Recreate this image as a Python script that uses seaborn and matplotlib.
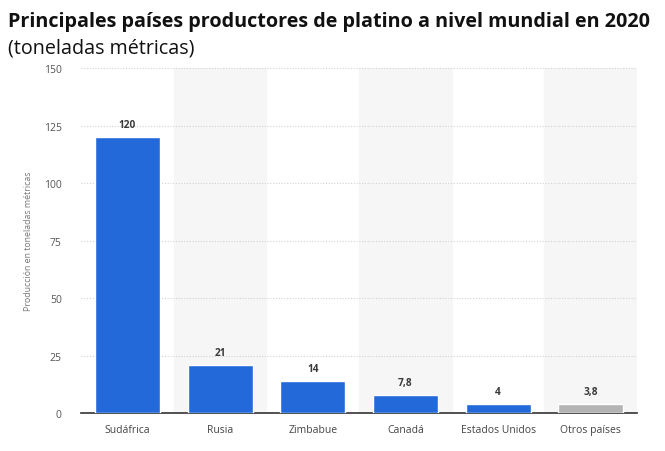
import pandas as pd
import matplotlib
matplotlib.use("Agg")
import matplotlib.pyplot as plt
import seaborn as sns

paises = ["Sudáfrica", "Rusia", "Zimbabue", "Canadá", "Estados Unidos", "Otros países"]
produccion = [120, 21, 14, 7.8, 4, 3.8]
etiquetas = ["120", "21", "14", "7,8", "4", "3,8"]
colores = ["#2469d9"] * 5 + ["#b4b4b4"]

df = pd.DataFrame({"pais": paises, "prod": produccion})

sns.set_style("white")
plt.rcParams["font.family"] = ["Open Sans", "DejaVu Sans"]

fig = plt.figure(figsize=(6.65, 4.52), dpi=100)
ax = fig.add_axes([0.122, 0.084, 0.836, 0.763])

# bandas alternas de fondo
for i in range(len(paises)):
    if i % 2 == 1:
        ax.axvspan(i - 0.5, i + 0.5, color="#f6f6f6", zorder=0)

sns.barplot(data=df, x="pais", y="prod", hue="pais", palette=colores,
            legend=False, width=0.7, saturation=1, ax=ax, zorder=3)

for i, (v, t) in enumerate(zip(produccion, etiquetas)):
    ax.text(i, v + 3, t, ha="center", va="bottom", fontsize=7.3,
            fontweight="bold", color="#3a3a3a")

ax.set_ylim(0, 150)
ax.set_xlim(-0.5, len(paises) - 0.5)
ax.set_yticks([0, 25, 50, 75, 100, 125, 150])
ax.yaxis.grid(True, linestyle=(0, (1, 1.5)), color="#d2d2d2", linewidth=0.8, zorder=1)
ax.set_axisbelow(True)
for s in ["top", "right", "left"]:
    ax.spines[s].set_visible(False)
ax.spines["bottom"].set_color("#333333")
ax.spines["bottom"].set_linewidth(1.2)
ax.tick_params(axis="y", length=0, labelsize=7.5, labelcolor="#555555", pad=14)
ax.tick_params(axis="x", length=0, labelsize=7.5, labelcolor="#444444", pad=8)
ax.set_xlabel("")
ax.set_ylabel("Producción en toneladas métricas", fontsize=6.3, color="#777777", labelpad=8)

fig.text(0.012, 0.952, "Principales países productores de platino a nivel mundial en 2020",
         fontsize=14.2, fontweight="bold", color="#111111", va="center")
fig.text(0.012, 0.893, "(toneladas métricas)", fontsize=14.2, color="#111111", va="center")

fig.savefig("out.png", dpi=100)
